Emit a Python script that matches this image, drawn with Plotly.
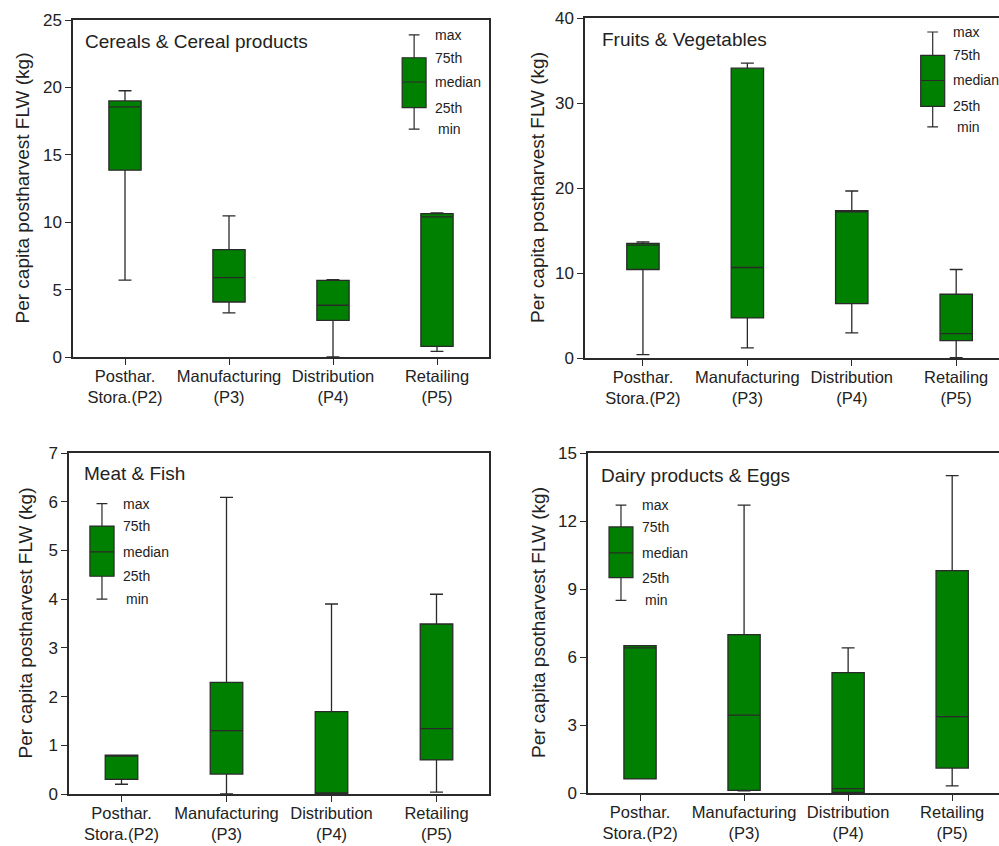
import plotly.graph_objects as go

# ---------------- data ----------------
stage_labels = ["Posthar.<br>Stora.(P2)", "Manufacturing<br>(P3)", "Distribution<br>(P4)", "Retailing<br>(P5)"]
stage_pos = [0, 1, 2, 3]

# Cereals & Cereal products
cereal_min = [5.7, 3.27, 0.0, 0.42]
cereal_q1 = [13.86, 4.08, 2.72, 0.79]
cereal_med = [18.56, 5.89, 3.84, 10.4]
cereal_q3 = [19.0, 7.97, 5.69, 10.64]
cereal_max = [19.75, 10.47, 5.74, 10.69]
cereal_key = [16.9, 18.5, 20.4, 22.2, 23.9]  # min, 25th, median, 75th, max

# Fruits & Vegetables
fruit_min = [0.39, 1.18, 2.95, 0.04]
fruit_q1 = [10.41, 4.72, 6.4, 2.04]
fruit_med = [13.28, 10.65, 17.2, 2.87]
fruit_q3 = [13.48, 34.1, 17.33, 7.5]
fruit_max = [13.67, 34.7, 19.65, 10.41]
fruit_key = [27.2, 29.6, 32.65, 35.6, 38.35]

# Meat & Fish
meat_min = [0.2, 0.0, 0.0, 0.04]
meat_q1 = [0.3, 0.41, 0.0, 0.7]
meat_med = [0.8, 1.3, 0.0, 1.34]
meat_q3 = [0.8, 2.29, 1.69, 3.49]
meat_max = [0.8, 6.09, 3.9, 4.1]
meat_key = [4.0, 4.47, 4.97, 5.5, 5.96]

# Dairy products & Eggs
dairy_min = [0.62, 0.1, 0.0, 0.31]
dairy_q1 = [0.62, 0.12, 0.03, 1.1]
dairy_med = [6.4, 3.44, 0.19, 3.37]
dairy_q3 = [6.5, 6.99, 5.31, 9.81]
dairy_max = [6.5, 12.7, 6.4, 14.0]
dairy_key = [8.5, 9.5, 10.59, 11.74, 12.7]

key_labels = ["min", "25th", "median", "75th", "max"]

W, H = 999, 846
def px(x):
    return x / W
def py(y):
    return 1 - y / H

panels = [
    dict(title="Cereals & Cereal products", ytitle="Per capita postharvest FLW (kg)",
         stats=(cereal_min, cereal_q1, cereal_med, cereal_q3, cereal_max), key=cereal_key,
         xdom=(73, 489), ydom=(20, 357), xrange=(-0.5, 3.5), yrange=(0, 25), dtick=5,
         right=True, key_x=2.78, label_x=2.96, title_xy=(83, 42), ytitle_x=22),
    dict(title="Fruits & Vegetables", ytitle="Per capita postharvest FLW (kg)",
         stats=(fruit_min, fruit_q1, fruit_med, fruit_q3, fruit_max), key=fruit_key,
         xdom=(585, 999), ydom=(18, 358), xrange=(-0.555, 3.41), yrange=(0, 40), dtick=10,
         right=False, key_x=2.775, label_x=2.955, title_xy=(600, 40), ytitle_x=537),
    dict(title="Meat & Fish", ytitle="Per capita postharvest FLW (kg)",
         stats=(meat_min, meat_q1, meat_med, meat_q3, meat_max), key=meat_key,
         xdom=(69, 489), ydom=(453, 794), xrange=(-0.5, 3.5), yrange=(0, 7), dtick=1,
         right=True, key_x=-0.186, label_x=-0.005, title_xy=(82, 473), ytitle_x=25),
    dict(title="Dairy products & Eggs", ytitle="Per capita psotharvest FLW (kg)",
         stats=(dairy_min, dairy_q1, dairy_med, dairy_q3, dairy_max), key=dairy_key,
         xdom=(588, 999), ydom=(453, 793), xrange=(-0.5, 3.45), yrange=(0, 15), dtick=3,
         right=False, key_x=-0.183, label_x=0.0, title_xy=(599, 475), ytitle_x=538),
]

GREEN = "rgb(0,128,0)"
LINE = "#2a2a2a"
FONT = "Liberation Sans, Arial, sans-serif"

fig = go.Figure()
annotations = []
layout = {}

for i, p in enumerate(panels, start=1):
    xa = "x" if i == 1 else f"x{i}"
    ya = "y" if i == 1 else f"y{i}"
    mn, q1, med, q3, mx = p["stats"]
    fig.add_trace(go.Box(
        x=stage_pos, lowerfence=mn, q1=q1, median=med, q3=q3, upperfence=mx,
        width=0.31, whiskerwidth=0.4, fillcolor=GREEN,
        line=dict(color=LINE, width=1.3), xaxis=xa, yaxis=ya,
        showlegend=False, hoverinfo="skip", boxpoints=False,
    ))
    k = p["key"]
    fig.add_trace(go.Box(
        x=[p["key_x"]], lowerfence=[k[0]], q1=[k[1]], median=[k[2]], q3=[k[3]], upperfence=[k[4]],
        width=0.23, whiskerwidth=0.45, fillcolor=GREEN,
        line=dict(color=LINE, width=1.2), xaxis=xa, yaxis=ya,
        showlegend=False, hoverinfo="skip", boxpoints=False,
    ))
    for lab, val in zip(key_labels, k):
        annotations.append(dict(
            x=p["label_x"] + (0.03 if lab == "min" else 0), y=val, xref=xa, yref=ya,
            text=lab, showarrow=False, xanchor="left", yanchor="middle",
            font=dict(family=FONT, size=14, color="#222"),
        ))
    annotations.append(dict(
        x=px(p["title_xy"][0]), y=py(p["title_xy"][1]), xref="paper", yref="paper",
        text=p["title"], showarrow=False, xanchor="left", yanchor="middle",
        font=dict(family=FONT, size=19, color="#222"),
    ))
    ymid = (p["ydom"][0] + p["ydom"][1]) / 2
    annotations.append(dict(
        x=px(p["ytitle_x"]), y=py(ymid), xref="paper", yref="paper",
        text=p["ytitle"], showarrow=False, textangle=-90,
        xanchor="center", yanchor="middle",
        font=dict(family=FONT, size=19, color="#222"),
    ))
    xkey = "xaxis" if i == 1 else f"xaxis{i}"
    ykey = "yaxis" if i == 1 else f"yaxis{i}"
    layout[xkey] = dict(
        domain=[px(p["xdom"][0]), px(p["xdom"][1])], anchor=ya,
        range=list(p["xrange"]), tickmode="array", tickvals=stage_pos, ticktext=stage_labels,
        ticks="outside", ticklen=6, tickwidth=1.3, tickcolor=LINE, ticklabelstandoff=-3,
        showline=True, linecolor=LINE, linewidth=1.5, mirror=True,
        showgrid=False, zeroline=False, automargin=False,
        tickfont=dict(family=FONT, size=16.5, color="#222"),
    )
    layout[ykey] = dict(
        domain=[py(p["ydom"][1]), py(p["ydom"][0])], anchor=xa,
        range=list(p["yrange"]), dtick=p["dtick"], tick0=0,
        ticks="outside", ticklen=6, tickwidth=1.3, tickcolor=LINE,
        showline=True, linecolor=LINE, linewidth=1.5, mirror=p["right"],
        showgrid=False, zeroline=False, automargin=False,
        tickfont=dict(family=FONT, size=17, color="#222"),
    )

fig.update_layout(
    width=W, height=H, margin=dict(l=0, r=0, t=0, b=0, autoexpand=False),
    paper_bgcolor="white", plot_bgcolor="white",
    annotations=annotations, boxmode="overlay", **layout,
)

fig.write_html("out.html", config={"displayModeBar": False},
               post_script="document.body.style.margin='0px';")
